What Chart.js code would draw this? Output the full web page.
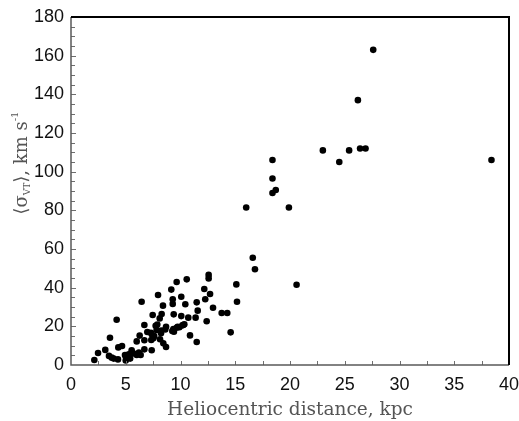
<!DOCTYPE html>
<html>
<head>
<meta charset="utf-8">
<script src="https://cdn.jsdelivr.net/npm/chart.js@4.4.0/dist/chart.umd.min.js"></script>
<style>
  html, body { margin: 0; padding: 0; background: #fff; }
</style>
</head>
<body>
<canvas id="grafico" width="519" height="421"></canvas>
<script>
// heliocentric distance (kpc) and <sigma_VT> (km/s)
const distance = [
    38.4, 27.6, 26.2, 23.0, 24.5, 25.4, 26.4, 26.9, 18.4, 18.4, 18.4, 18.7, 16.0, 19.9, 16.6, 16.8, 20.6,
    12.57, 12.57, 10.57, 9.65, 7.95, 9.16, 10.07, 12.17, 12.7, 12.26, 9.29, 8.4, 9.29, 10.44, 11.48, 12.97,
    11.57, 15.1, 15.16, 13.76, 14.27, 7.46, 8.28, 9.38, 10.07, 10.71, 11.38, 12.39, 8.1, 7.88, 8.68, 8.61,
    7.73, 9.74, 10.17, 10.35, 9.35, 9.65, 9.4, 10.87, 14.58, 11.48, 7.3, 7.52, 7.33, 8.43, 8.68, 7.37,
    7.82, 8.25, 8.13, 7.6,
    2.13, 2.47, 3.13, 3.56, 4.17, 3.47, 3.72, 3.9, 4.29, 4.32, 4.66, 4.93, 5.02, 5.27, 5.54, 5.69,
    6.0, 6.36, 6.7, 6.0, 6.27, 6.45, 6.7, 6.7, 6.97, 5.0, 5.4,
    7.37, 7.52, 8.22, 9.25, 9.9, 10.26, 5.3, 6.2
];
const sigma = [
    106, 163, 137, 111, 105, 111, 112, 112, 106, 96.5, 89, 90.5, 81.5, 81.5, 55.5, 49.5, 41.5,
    46.6, 44.8, 44.3, 42.9, 36.2, 39.0, 35.3, 39.3, 36.7, 34.0, 34.0, 30.7, 31.6, 31.4, 32.4, 29.6,
    28.1, 41.7, 32.7, 26.9, 26.9, 25.9, 26.4, 26.2, 25.3, 24.5, 24.5, 22.6, 24.1, 20.9, 19.8, 18.4,
    20.3, 19.8, 20.5, 21.1, 18.6, 19.3, 17.2, 15.3, 16.9, 11.9, 16.7, 14.3, 12.9, 11.2, 9.3, 7.6,
    18.1, 17.8, 13.3, 15.0,
    2.6, 6.2, 7.8, 14.1, 23.4, 4.7, 3.8, 3.3, 2.9, 9.1, 9.8, 5.2, 4.0, 5.5, 7.6, 6.0,
    5.2, 5.2, 8.1, 12.2, 15.2, 32.7, 20.7, 12.8, 17.1, 2.3, 3.3,
    15.9, 13.8, 16.4, 17.6, 19.5, 20.7, 4.5, 6.5
];
const xTickLabels = [0, 5, 10, 15, 20, 25, 30, 35, 40];
const yTickLabels = [0, 20, 40, 60, 80, 100, 120, 140, 160, 180];

const pontos = distance.map((d, i) => ({ x: d, y: sigma[i] }));

// frame + inward tick marks (minor every 2.5 kpc / 5 km/s)
const moldura = {
    id: 'moldura',
    afterDatasetsDraw(chart) {
        const { ctx, chartArea: a, scales: { x, y } } = chart;
        ctx.save();
        ctx.strokeStyle = '#6e6e6e';
        ctx.lineWidth = 1;
        ctx.beginPath();
        for (let v = 2.5; v < 40; v += 2.5) {
            const px = Math.round(x.getPixelForValue(v)) + 0.5;
            ctx.moveTo(px, a.bottom);
            ctx.lineTo(px, a.bottom - 4);
        }
        for (let v = 5; v < 180; v += 5) {
            const py = Math.round(y.getPixelForValue(v)) + 0.5;
            ctx.moveTo(a.left, py);
            ctx.lineTo(a.left + (v % 20 === 0 ? 5 : 4), py);
        }
        ctx.stroke();

        ctx.lineWidth = 1.5;
        ctx.strokeStyle = '#5a5a5a';
        ctx.beginPath();
        ctx.moveTo(a.left, a.top);
        ctx.lineTo(a.left, a.bottom);
        ctx.lineTo(a.right, a.bottom);
        ctx.stroke();

        ctx.lineWidth = 2;
        ctx.strokeStyle = '#000';
        ctx.beginPath();
        ctx.moveTo(a.left, a.top);
        ctx.lineTo(a.right, a.top);
        ctx.lineTo(a.right, a.bottom);
        ctx.stroke();
        ctx.restore();
    }
};

// y title with subscript VT and superscript -1
const tituloY = {
    id: 'tituloY',
    afterDraw(chart) {
        const ctx = chart.ctx;
        const partes = [
            { t: '\u27E8\u03C3', f: '18px "DejaVu Serif"', dy: 0 },
            { t: 'VT', f: '9px "DejaVu Serif"', dy: 3 },
            { t: '\u27E9, km s', f: '18px "DejaVu Serif"', dy: 0 },
            { t: '-1', f: '10px "DejaVu Serif"', dy: -9 }
        ];
        ctx.save();
        let total = 0;
        partes.forEach(p => { ctx.font = p.f; total += ctx.measureText(p.t).width; });
        ctx.translate(27, 163);
        ctx.rotate(-Math.PI / 2);
        ctx.fillStyle = '#555';
        ctx.textBaseline = 'alphabetic';
        ctx.textAlign = 'left';
        let cx = -total / 2;
        partes.forEach(p => {
            ctx.font = p.f;
            ctx.fillText(p.t, cx, p.dy);
            cx += ctx.measureText(p.t).width;
        });
        ctx.restore();
    }
};

new Chart(document.getElementById('grafico'), {
    type: 'scatter',
    data: {
        datasets: [{
            label: 'sigma',
            data: pontos,
            backgroundColor: '#000',
            borderColor: '#000',
            pointRadius: 3.3,
            borderWidth: 0
        }]
    },
    options: {
        responsive: false,
        animation: false,
        devicePixelRatio: 1,
        layout: { padding: { left: 0, right: 10, top: 17, bottom: 0 } },
        plugins: {
            legend: { display: false },
            tooltip: { enabled: false }
        },
        scales: {
            x: {
                type: 'linear',
                min: 0,
                max: 40,
                afterBuildTicks: (s) => { s.ticks = xTickLabels.map(v => ({ value: v })); },
                afterFit: (s) => { s.height = 56; s.paddingLeft = 0; s.paddingRight = 0; },
                grid: { display: false, drawTicks: false },
                border: { display: false },
                ticks: {
                    padding: 9,
                    color: '#111',
                    font: { family: '"Liberation Sans", Arial', size: 18 }
                },
                title: {
                    display: true,
                    text: 'Heliocentric distance, kpc',
                    color: '#555',
                    padding: { top: 0, bottom: 0 },
                    font: { family: '"DejaVu Serif"', size: 18.5 }
                }
            },
            y: {
                type: 'linear',
                min: 0,
                max: 180,
                afterBuildTicks: (s) => { s.ticks = yTickLabels.map(v => ({ value: v })); },
                afterFit: (s) => { s.width = 71; s.paddingTop = 0; s.paddingBottom = 0; },
                grid: { display: false, drawTicks: false },
                border: { display: false },
                ticks: {
                    padding: 7,
                    color: '#111',
                    font: { family: '"Liberation Sans", Arial', size: 18 }
                }
            }
        }
    },
    plugins: [moldura, tituloY]
});
</script>
</body>
</html>
